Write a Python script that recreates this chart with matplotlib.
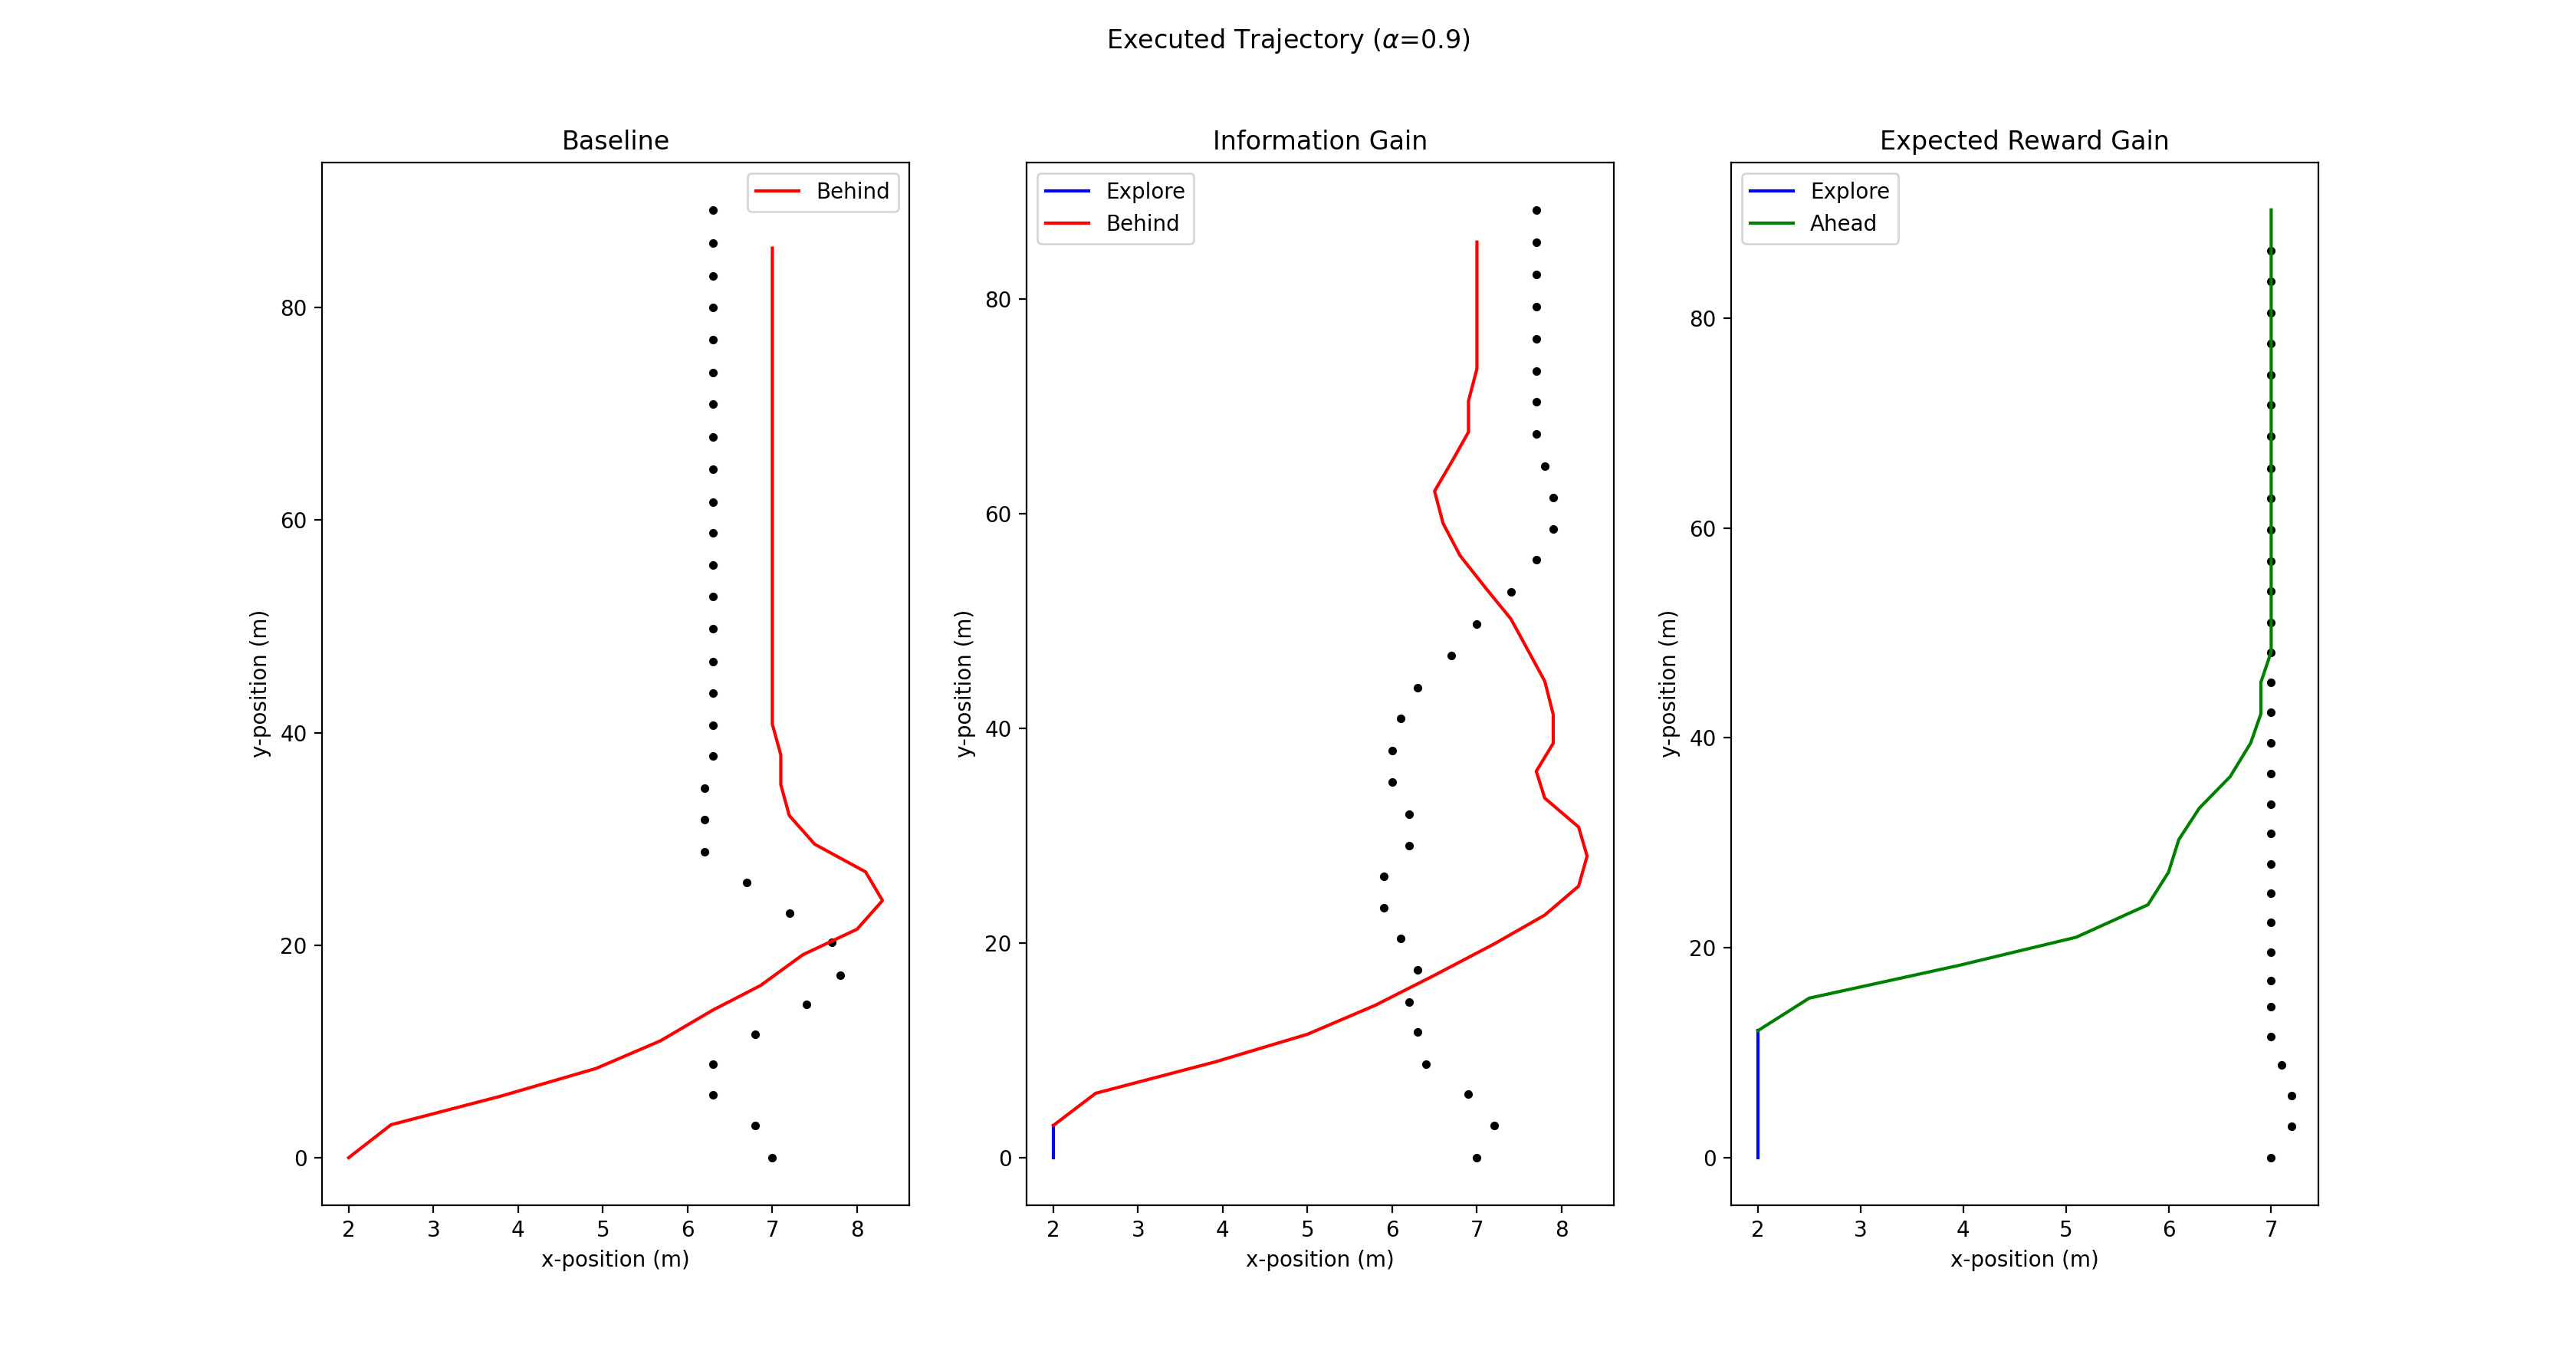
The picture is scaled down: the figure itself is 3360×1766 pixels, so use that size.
import numpy as np
import matplotlib
matplotlib.use('Agg')
import matplotlib.pyplot as plt

# ---- Baseline ----
base_obs_x = [7.0, 6.8, 6.3, 6.3, 6.8, 7.4, 7.8, 7.7, 7.2, 6.7, 6.2, 6.2, 6.2,
              6.3, 6.3, 6.3, 6.3, 6.3, 6.3, 6.3, 6.3, 6.3, 6.3, 6.3, 6.3, 6.3,
              6.3, 6.3, 6.3, 6.3, 6.3]
base_obs_y = [0, 3.0, 5.9, 8.8, 11.6, 14.4, 17.2, 20.3, 23.0, 25.9, 28.8, 31.8,
              34.8, 37.8, 40.7, 43.7, 46.7, 49.8, 52.8, 55.8, 58.8, 61.7, 64.8,
              67.8, 70.9, 73.9, 77.0, 80.0, 83.0, 86.1, 89.2]
base_behind_x = [2.0, 2.5, 3.8, 4.92, 5.68, 6.3, 6.86, 7.36, 8.0, 8.3, 8.1, 7.5,
                 7.2, 7.1, 7.1, 7.0, 7.0]
base_behind_y = [0, 3.1, 5.8, 8.4, 11.0, 13.9, 16.2, 19.1, 21.5, 24.2, 26.9,
                 29.5, 32.2, 35.1, 37.9, 40.8, 85.6]

# ---- Information Gain ----
info_obs_x = [7.0, 7.2, 6.9, 6.4, 6.3, 6.2, 6.3, 6.1, 5.9, 5.9, 6.2, 6.2, 6.0,
              6.0, 6.1, 6.3, 6.7, 7.0, 7.4, 7.7, 7.9, 7.9, 7.8, 7.7, 7.7, 7.7,
              7.7, 7.7, 7.7, 7.7, 7.7]
info_obs_y = [0, 3.0, 5.9, 8.7, 11.7, 14.5, 17.5, 20.4, 23.3, 26.2, 29.1, 32.0,
              35.0, 37.9, 40.9, 43.8, 46.8, 49.7, 52.7, 55.7, 58.6, 61.5, 64.4,
              67.4, 70.4, 73.3, 76.3, 79.3, 82.3, 85.3, 88.3]
info_explore_x = [2.0, 2.0]
info_explore_y = [0, 3.0]
info_behind_x = [2.0, 2.5, 3.9, 5.0, 5.8, 6.5, 7.2, 7.8, 8.2, 8.3, 8.2, 7.8,
                 7.7, 7.9, 7.9, 7.8, 7.6, 7.4, 7.1, 6.8, 6.6, 6.5, 6.7, 6.9,
                 6.9, 7.0, 7.0]
info_behind_y = [3.0, 6.0, 8.9, 11.5, 14.2, 17.0, 19.9, 22.6, 25.3, 28.1, 30.8,
                 33.5, 36.0, 38.6, 41.3, 44.4, 47.3, 50.2, 53.1, 56.1, 59.1,
                 62.1, 64.8, 67.6, 70.5, 73.5, 85.3]

# ---- Expected Reward Gain ----
erg_obs_x = [7.0, 7.2, 7.2, 7.1] + [7.0] * 27
erg_obs_y = [0, 3.0, 5.9, 8.8, 11.5, 14.4, 16.9, 19.6, 22.4, 25.2, 28.0, 30.9,
             33.7, 36.6, 39.5, 42.4, 45.3, 48.1, 51.0, 54.0, 56.8, 59.8, 62.8,
             65.7, 68.7, 71.7, 74.6, 77.6, 80.5, 83.5, 86.4]
erg_explore_x = [2.0, 2.0]
erg_explore_y = [0, 12.1]
erg_ahead_x = [2.0, 2.5, 3.95, 5.1, 5.8, 6.0, 6.1, 6.3, 6.6, 6.8, 6.9, 6.9,
               7.0, 7.0]
erg_ahead_y = [12.1, 15.2, 18.3, 21.0, 24.1, 27.2, 30.3, 33.3, 36.3, 39.5,
               42.3, 45.3, 48.2, 90.3]

fig, axes = plt.subplots(1, 3, figsize=(16.8, 8.83))
fig.suptitle(r'Executed Trajectory ($\alpha$=0.9)')

ax = axes[0]
ax.plot(base_obs_x, base_obs_y, 'k.')
ax.plot(base_behind_x, base_behind_y, 'r', label='Behind')
ax.set_title('Baseline')
ax.legend(loc='upper right')

ax = axes[1]
ax.plot(info_obs_x, info_obs_y, 'k.')
ax.plot(info_explore_x, info_explore_y, 'b', label='Explore')
ax.plot(info_behind_x, info_behind_y, 'r', label='Behind')
ax.set_title('Information Gain')
ax.legend(loc='upper left')

ax = axes[2]
ax.plot(erg_obs_x, erg_obs_y, 'k.')
ax.plot(erg_explore_x, erg_explore_y, 'b', label='Explore')
ax.plot(erg_ahead_x, erg_ahead_y, 'g', label='Ahead')
ax.set_title('Expected Reward Gain')
ax.legend(loc='upper left')

for ax in axes:
    ax.set_xlabel('x-position (m)')
    ax.set_ylabel('y-position (m)')

plt.savefig('out.png', dpi=200)
